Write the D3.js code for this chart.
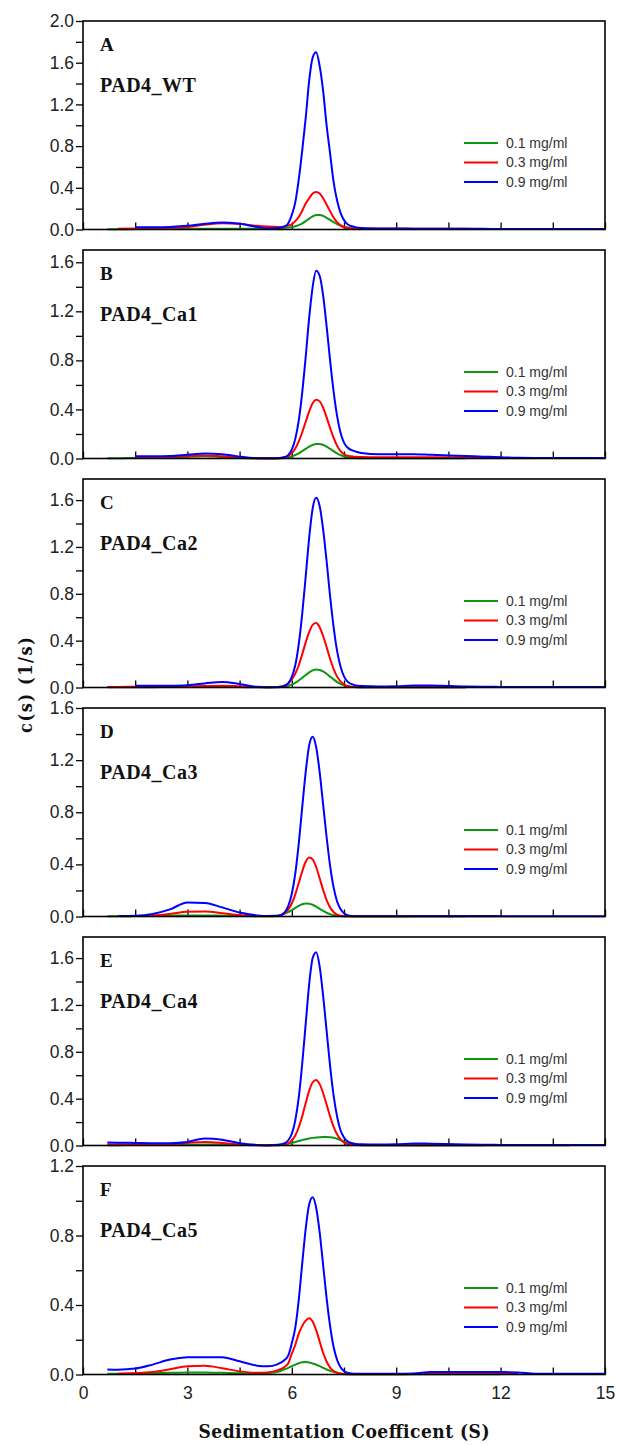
<!DOCTYPE html>
<html>
<head>
<meta charset="utf-8">
<script src="https://cdn.jsdelivr.net/npm/d3@7"></script>
<style>
  body { margin: 0; background: #fff; }
</style>
</head>
<body>
<div id="chart"></div>
<script>
// sedimentation coefficient grid (S), shared by every series
const sGrid = [0.7, 1.0, 1.5, 2.0, 2.5, 3.0, 3.5, 4.0, 4.5, 5.0, 5.3, 5.6,
    5.8, 5.9, 6.0, 6.1, 6.2, 6.3, 6.4, 6.5, 6.6, 6.7, 6.8, 6.9, 7.0, 7.1, 7.2, 7.3, 7.4, 7.5, 7.6,
    7.8, 8.0, 8.5, 9.0, 9.5, 10.0, 11.0, 11.5, 12.0, 12.5, 13.0, 14.0, 15.0]

// c(s) values, null where a trace is not drawn
const wt01 = [0.003, 0.003, 0.004, 0.005, 0.005, 0.006, 0.007, 0.008, 0.007, 0.006, 0.006, 0.008,
    0.013, 0.018, 0.024, 0.032, 0.042, 0.058, 0.08, 0.105, 0.125, 0.138, 0.14, 0.13, 0.112, 0.092, 0.07, 0.053, 0.038, 0.027, 0.02,
    0.01, 0.006, 0.005, 0.005, 0.005, 0.005, 0.004, null, null, null, null, null, null]
const wt03 = [null, 0.008, 0.01, 0.012, 0.015, 0.025, 0.045, 0.06, 0.055, 0.035, 0.028, 0.025,
    0.03, 0.038, 0.05, 0.08, 0.12, 0.18, 0.25, 0.30, 0.345, 0.36, 0.345, 0.30, 0.24, 0.175, 0.115, 0.07, 0.04, 0.022, 0.015,
    0.01, 0.01, 0.008, 0.008, 0.008, 0.008, 0.006, 0.005, null, null, null, null, null]
const wt09 = [null, null, 0.022, 0.022, 0.025, 0.035, 0.055, 0.068, 0.055, 0.025, 0.012, 0.015,
    0.03, 0.06, 0.14, 0.26, 0.48, 0.76, 1.07, 1.43, 1.65, 1.70, 1.57, 1.33, 1.0, 0.73, 0.46, 0.28, 0.16, 0.09, 0.05,
    0.025, 0.015, 0.01, 0.01, 0.008, 0.008, 0.006, 0.006, 0.005, 0.005, 0.004, 0.004, 0.004]

const ca1_01 = [0.003, 0.003, 0.004, 0.005, 0.008, 0.015, 0.018, 0.012, 0.005, 0.002, 0.002, 0.002,
    0.006, 0.01, 0.017, 0.028, 0.042, 0.06, 0.078, 0.097, 0.111, 0.119, 0.119, 0.111, 0.097, 0.078, 0.06, 0.042, 0.028, 0.018, 0.011,
    0.005, 0.003, 0.003, 0.003, 0.003, 0.003, 0.003, null, null, null, null, null, null]
const ca1_03 = [null, null, 0.01, 0.01, 0.012, 0.02, 0.025, 0.018, 0.008, 0.002, 0.001, 0.002,
    0.01, 0.022, 0.044, 0.082, 0.14, 0.214, 0.30, 0.385, 0.45, 0.48, 0.466, 0.415, 0.335, 0.25, 0.17, 0.105, 0.06, 0.035, 0.022,
    0.014, 0.012, 0.01, 0.01, 0.01, 0.01, 0.008, 0.006, 0.005, null, null, null, null]
const ca1_09 = [null, null, 0.018, 0.018, 0.02, 0.03, 0.04, 0.035, 0.015, 0.003, 0.002, 0.003,
    0.012, 0.03, 0.072, 0.16, 0.31, 0.54, 0.83, 1.15, 1.40, 1.53, 1.49, 1.33, 1.08, 0.80, 0.55, 0.35, 0.21, 0.13, 0.09,
    0.06, 0.045, 0.035, 0.035, 0.035, 0.03, 0.02, 0.015, 0.01, 0.006, 0.005, 0.005, 0.005]

const ca2_01 = [0.002, 0.002, 0.003, 0.003, 0.004, 0.005, 0.006, 0.006, 0.004, 0.002, 0.002, 0.002,
    0.008, 0.015, 0.025, 0.04, 0.06, 0.083, 0.107, 0.129, 0.146, 0.153, 0.15, 0.137, 0.117, 0.093, 0.069, 0.048, 0.031, 0.019, 0.01,
    0.004, 0.002, 0.002, 0.002, 0.002, 0.002, 0.002, null, null, null, null, null, null]
const ca2_03 = [0.004, 0.005, 0.006, 0.007, 0.008, 0.01, 0.013, 0.015, 0.01, 0.004, 0.002, 0.004,
    0.017, 0.035, 0.068, 0.118, 0.19, 0.285, 0.385, 0.475, 0.535, 0.55, 0.515, 0.44, 0.345, 0.245, 0.16, 0.095, 0.052, 0.027, 0.013,
    0.004, 0.003, 0.003, 0.003, 0.003, 0.003, 0.003, null, null, null, null, null, null]
const ca2_09 = [null, null, 0.015, 0.015, 0.016, 0.02, 0.035, 0.048, 0.03, 0.006, 0.003, 0.004,
    0.015, 0.037, 0.09, 0.19, 0.37, 0.63, 0.95, 1.28, 1.53, 1.62, 1.55, 1.35, 1.08, 0.78, 0.52, 0.315, 0.18, 0.095, 0.05,
    0.02, 0.012, 0.008, 0.01, 0.018, 0.018, 0.008, 0.006, 0.005, 0.004, 0.004, 0.004, 0.004]

const ca3_01 = [0.002, 0.002, 0.003, 0.004, 0.006, 0.008, 0.008, 0.006, 0.004, 0.002, 0.003, 0.007,
    0.022, 0.034, 0.049, 0.066, 0.082, 0.094, 0.1, 0.098, 0.09, 0.076, 0.059, 0.043, 0.029, 0.018, 0.01, 0.005, 0.003, 0.001, 0.001,
    0.001, 0.001, 0.001, 0.001, 0.001, 0.001, 0.001, null, null, null, null, null, null]
const ca3_03 = [null, null, 0.003, 0.008, 0.02, 0.036, 0.038, 0.025, 0.01, 0.003, 0.002, 0.004,
    0.025, 0.054, 0.10, 0.17, 0.257, 0.347, 0.42, 0.453, 0.438, 0.38, 0.294, 0.204, 0.126, 0.07, 0.035, 0.015, 0.006, 0.002, 0.001,
    0.001, 0.001, 0.001, 0.002, 0.003, 0.003, 0.003, 0.003, 0.003, null, null, null, null]
const ca3_09 = [null, 0.003, 0.006, 0.02, 0.055, 0.108, 0.104, 0.07, 0.03, 0.008, 0.003, 0.004,
    0.034, 0.081, 0.174, 0.33, 0.56, 0.84, 1.11, 1.315, 1.38, 1.30, 1.11, 0.86, 0.61, 0.39, 0.225, 0.117, 0.057, 0.025, 0.01,
    0.002, 0.001, 0.001, 0.001, 0.001, 0.001, 0.001, 0.001, 0.001, 0.001, 0.001, 0.001, 0.001]

const ca4_01 = [0.003, 0.003, 0.004, 0.004, 0.005, 0.006, 0.008, 0.008, 0.006, 0.004, 0.003, 0.004,
    0.01, 0.016, 0.022, 0.03, 0.038, 0.046, 0.054, 0.06, 0.065, 0.069, 0.071, 0.072, 0.072, 0.07, 0.066, 0.058, 0.047, 0.035, 0.024,
    0.01, 0.005, 0.003, 0.003, 0.003, 0.003, 0.003, 0.003, null, null, null, null, null]
const ca4_03 = [0.008, 0.008, 0.008, 0.01, 0.012, 0.022, 0.03, 0.022, 0.008, 0.002, 0.001, 0.002,
    0.008, 0.019, 0.043, 0.086, 0.156, 0.25, 0.362, 0.468, 0.54, 0.559, 0.524, 0.448, 0.35, 0.249, 0.162, 0.096, 0.052, 0.026, 0.011,
    0.004, 0.003, 0.003, 0.003, 0.003, 0.003, 0.003, 0.003, 0.003, 0.003, 0.003, 0.003, null]
const ca4_09 = [0.025, 0.024, 0.022, 0.02, 0.02, 0.03, 0.06, 0.05, 0.02, 0.005, 0.003, 0.006,
    0.02, 0.045, 0.10, 0.215, 0.41, 0.70, 1.04, 1.38, 1.60, 1.65, 1.53, 1.28, 0.98, 0.68, 0.43, 0.25, 0.13, 0.068, 0.035,
    0.015, 0.01, 0.008, 0.01, 0.018, 0.015, 0.008, 0.006, 0.005, 0.004, 0.004, 0.004, 0.004]

const ca5_01 = [0.004, 0.004, 0.005, 0.007, 0.01, 0.012, 0.012, 0.01, 0.007, 0.006, 0.008, 0.015,
    0.03, 0.038, 0.048, 0.057, 0.065, 0.07, 0.072, 0.069, 0.063, 0.056, 0.048, 0.038, 0.029, 0.021, 0.015, 0.01, 0.006, 0.004, 0.003,
    0.002, 0.002, 0.002, 0.002, 0.002, 0.002, 0.002, 0.002, 0.002, null, null, null, null]
const ca5_03 = [null, 0.005, 0.008, 0.015, 0.03, 0.047, 0.05, 0.036, 0.018, 0.01, 0.012, 0.025,
    0.045, 0.065, 0.12, 0.17, 0.235, 0.28, 0.31, 0.324, 0.305, 0.255, 0.19, 0.125, 0.075, 0.04, 0.02, 0.01, 0.005, 0.003, 0.002,
    0.002, 0.002, 0.002, 0.002, 0.003, 0.005, 0.005, 0.005, 0.005, 0.004, null, null, null]
const ca5_09 = [0.029, 0.028, 0.034, 0.057, 0.086, 0.099, 0.1, 0.099, 0.076, 0.051, 0.047, 0.06,
    0.085, 0.11, 0.18, 0.27, 0.43, 0.64, 0.84, 0.98, 1.02, 0.96, 0.82, 0.63, 0.44, 0.28, 0.16, 0.085, 0.042, 0.02, 0.01,
    0.004, 0.004, 0.004, 0.004, 0.006, 0.014, 0.015, 0.015, 0.014, 0.012, 0.005, 0.004, 0.004]

const panelLetters = ['A', 'B', 'C', 'D', 'E', 'F']
const panelNames = ['PAD4_WT', 'PAD4_Ca1', 'PAD4_Ca2', 'PAD4_Ca3', 'PAD4_Ca4', 'PAD4_Ca5']
const panelYMax = [2.0, 1.7, 1.78, 1.6, 1.78, 1.2]
const panelSeries = [
    [wt01, wt03, wt09],
    [ca1_01, ca1_03, ca1_09],
    [ca2_01, ca2_03, ca2_09],
    [ca3_01, ca3_03, ca3_09],
    [ca4_01, ca4_03, ca4_09],
    [ca5_01, ca5_03, ca5_09]
]
const concLabels = ['0.1 mg/ml', '0.3 mg/ml', '0.9 mg/ml']
const concColors = ['#0f960f', '#ff0000', '#0000ff']
const xTickValues = [0, 1.5, 3, 4.5, 6, 7.5, 9, 10.5, 12, 13.5, 15]
const xTickLabels = [0, 3, 6, 9, 12, 15]

panelSeries.forEach(function (p, i) {
    p.forEach(function (s, j) {
        if (s.length !== sGrid.length) throw new Error('series ' + i + '/' + j + ' has ' + s.length + ' values')
    })
})

let width = 617,
    height = 1445

let svg = d3.select('#chart')
    .append('svg')
    .attr('width', width)
    .attr('height', height)

let left = 83,
    right = 605,
    firstTop = 21,
    panelStep = 229,
    panelHeight = 208.5

let x = d3.scaleLinear().domain([0, 15]).range([left, right])

let sansFont = "'Liberation Sans', Arial, sans-serif"
let serifFont = "'Liberation Serif', 'Times New Roman', serif"
let titleFont = "'DejaVu Serif Condensed', 'DejaVu Serif', serif"

panelLetters.forEach(function (letter, i) {
    let top = firstTop + i * panelStep
    let bottom = top + panelHeight
    let y = d3.scaleLinear().domain([0, panelYMax[i]]).range([bottom, top])

    let g = svg.append('g').attr('class', 'panel')

    // y axis, ticks every 0.2, labels every 0.4
    let yTicks = d3.range(0, panelYMax[i] + 1e-9, 0.2)
    g.append('g')
        .attr('transform', 'translate(' + left + ',0)')
        .call(d3.axisLeft(y)
            .tickValues(yTicks)
            .tickSize(7)
            .tickPadding(2)
            .tickFormat(function (d) {
                return Math.round(d * 10) % 4 === 0 ? d3.format('.1f')(d) : ''
            }))
        .call(function (a) {
            a.select('.domain').remove()
            a.selectAll('line').attr('stroke', '#000').attr('stroke-width', 1.3)
            a.selectAll('text')
                .attr('font-family', sansFont)
                .attr('font-size', '17.5px')
                .attr('fill', '#222')
        })

    // x axis, inward ticks
    g.append('g')
        .attr('transform', 'translate(0,' + bottom + ')')
        .call(d3.axisBottom(x)
            .tickValues(xTickValues)
            .tickSize(-7)
            .tickPadding(12)
            .tickFormat(function (d) {
                return (i === panelLetters.length - 1 && xTickLabels.indexOf(d) >= 0) ? d : ''
            }))
        .call(function (a) {
            a.select('.domain').remove()
            a.selectAll('line').attr('stroke', '#000').attr('stroke-width', 1.3)
            a.selectAll('text')
                .attr('font-family', sansFont)
                .attr('font-size', '17.5px')
                .attr('fill', '#222')
        })

    let line = d3.line()
        .defined(function (d) { return d[1] != null })
        .x(function (d) { return x(d[0]) })
        .y(function (d) { return y(d[1]) })
        .curve(d3.curveMonotoneX)

    panelSeries[i].forEach(function (vals, j) {
        g.append('path')
            .datum(sGrid.map(function (s, k) { return [s, vals[k]] }))
            .attr('d', line)
            .attr('fill', 'none')
            .attr('stroke', concColors[j])
            .attr('stroke-width', 2)
            .attr('stroke-linejoin', 'round')
    })

    g.append('rect')
        .attr('x', left)
        .attr('y', top)
        .attr('width', right - left)
        .attr('height', panelHeight)
        .attr('fill', 'none')
        .attr('stroke', '#000')
        .attr('stroke-width', 1.6)

    g.append('text')
        .attr('x', left + 17)
        .attr('y', top + 30)
        .attr('font-family', serifFont)
        .attr('font-weight', 'bold')
        .attr('font-size', '19px')
        .attr('fill', '#111')
        .text(letter)

    g.append('text')
        .attr('x', left + 17)
        .attr('y', top + 70.5)
        .attr('font-family', serifFont)
        .attr('font-weight', 'bold')
        .attr('font-size', '20px')
        .attr('letter-spacing', '0.5px')
        .attr('fill', '#111')
        .text(panelNames[i])

    // legend
    concLabels.forEach(function (lab, j) {
        let ly = top + 122 + j * 19.5
        g.append('line')
            .attr('x1', 464)
            .attr('x2', 498)
            .attr('y1', ly)
            .attr('y2', ly)
            .attr('stroke', concColors[j])
            .attr('stroke-width', 2)
        g.append('text')
            .attr('x', 506)
            .attr('y', ly)
            .attr('dy', '0.35em')
            .attr('font-family', sansFont)
            .attr('font-size', '14px')
            .attr('fill', '#333')
            .text(lab)
    })
})

svg.append('text')
    .attr('transform', 'translate(32,685) rotate(-90)')
    .attr('text-anchor', 'middle')
    .attr('font-family', titleFont)
    .attr('font-weight', 'bold')
    .attr('font-size', '18px')
    .attr('textLength', 96)
    .attr('lengthAdjust', 'spacing')
    .attr('fill', '#111')
    .text('c(s) (1/s)')

svg.append('text')
    .attr('x', 344)
    .attr('y', 1438)
    .attr('text-anchor', 'middle')
    .attr('font-family', titleFont)
    .attr('font-weight', 'bold')
    .attr('font-size', '19px')
    .attr('textLength', 291)
    .attr('lengthAdjust', 'spacing')
    .attr('fill', '#111')
    .text('Sedimentation Coefficent (S)')
</script>
</body>
</html>
